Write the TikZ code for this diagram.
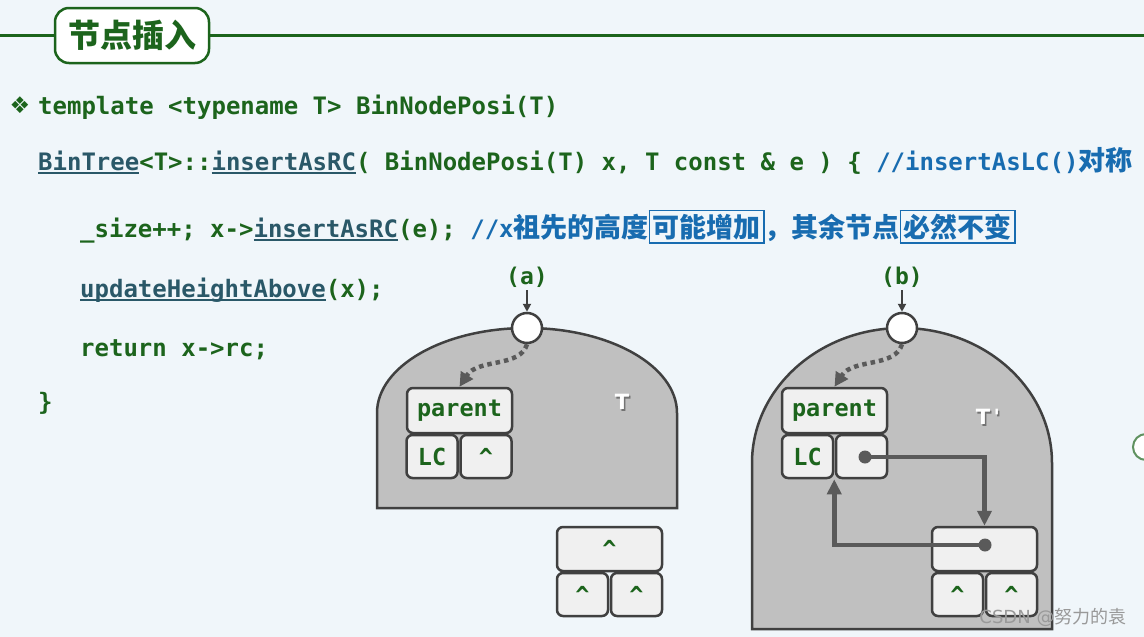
\documentclass[tikz,border=0pt]{standalone}
\usepackage{fontspec}
\setmonofont{DejaVu Sans Mono}
\setsansfont{DejaVu Sans}
\newfontfamily\cjk{Noto Sans CJK SC}
\usetikzlibrary{arrows.meta}

\definecolor{bgblue}{RGB}{240,246,250}
\definecolor{codegreen}{RGB}{28,100,28}
\definecolor{cmtblue}{RGB}{24,108,176}
\definecolor{linkteal}{RGB}{42,88,104}
\definecolor{edgegray}{RGB}{64,64,64}
\definecolor{treegray}{RGB}{192,192,192}
\definecolor{cellgray}{RGB}{240,240,240}
\definecolor{ptrgray}{RGB}{90,90,90}

% underlined names and boxed phrases in the code lines
\newcommand\ulink[1]{{\color{linkteal}\setbox0\hbox{#1}\rlap{\rule[-3.5pt]{\wd0}{1.6pt}}\box0}}
\newcommand\cn{\cjk\bfseries\fontsize{27}{30}\selectfont}
\setlength\fboxsep{2.5pt}
\setlength\fboxrule{1.5pt}
\newcommand\boxcn[1]{\fcolorbox{cmtblue}{bgblue}{#1}}

\tikzset{
  code/.style={anchor=base west, inner sep=0pt, text=codegreen,
    font=\ttfamily\bfseries\fontsize{24}{28}\selectfont},
  cell/.style={draw=edgegray, line width=2.5pt, fill=cellgray, rounded corners=6pt,
    inner sep=0pt, text=codegreen, font=\ttfamily\bfseries\fontsize{23.5}{26}\selectfont},
  wide/.style={cell, minimum width=105pt, minimum height=45pt},
  half/.style={cell, minimum width=51pt, minimum height=43pt},
  tree/.style={draw=edgegray, line width=2.5pt, fill=treegray},
  root/.style={circle, draw=edgegray, line width=2.5pt, fill=white, minimum size=30pt, inner sep=0pt},
  dot/.style={circle, fill=ptrgray, minimum size=13pt, inner sep=0pt},
  ptr/.style={draw=ptrgray, line width=4.5pt, -{Triangle[length=15pt,width=14pt]}},
  parentptr/.style={draw=ptrgray, line width=4.5pt, dash pattern=on 4.5pt off 4pt,
    -{Triangle[length=14pt,width=14pt]}},
  tag/.style={inner sep=1pt, text=codegreen, font=\ttfamily\bfseries\fontsize{23}{25}\selectfont},
  down/.style={draw=edgegray, line width=2.2pt, shorten <=2pt, -{Triangle[length=8pt,width=8pt]}},
  tname/.style={text=white, font=\sffamily\bfseries\fontsize{21}{24}\selectfont},
  tshade/.style={tname, text=black!55},
  titlebox/.style={draw=codegreen, line width=2.5pt, fill=white, rounded corners=14pt,
    minimum width=154pt, minimum height=55pt, text=codegreen,
    font=\cjk\bfseries\fontsize{32}{35}\selectfont},
  wmark/.style={text=black!40, font=\sffamily\fontsize{18}{22}\selectfont}
}

\begin{document}
\begin{tikzpicture}[x=1pt,y=-1pt]
  \useasboundingbox (0,0) rectangle (1144,637);
  \fill[bgblue] (0,0) rectangle (1144,637);

  % Title bar
  \coordinate (lineL) at (0,35);
  \coordinate (lineR) at (1144,35);
  \draw[codegreen, line width=3pt] (lineL) -- (lineR);
  \node[titlebox] (title) at (132,35.5) {节点插入};

  % Code
  \node[text=codegreen, font=\sffamily\fontsize{23}{25}\selectfont] (bullet) at (20,105) {❖};
  \node[code] (l1) at (38,114) {template <typename T> BinNodePosi(T)};
  \node[code] (l2) at (38,170) {\ulink{BinTree}<T>::\ulink{insertAsRC}( BinNodePosi(T) x, T const \& e ) \{ {\color{cmtblue}//insertAsLC(){\cn 对称}}};
  \node[code] (l3) at (80,237) {\_size++; x->\ulink{insertAsRC}(e); {\color{cmtblue}//x{\cn 祖先的高度\boxcn{可能增加}，其余节点\boxcn{必然不变}}}};
  \node[code] (l4) at (80,297) {\ulink{updateHeightAbove}(x);};
  \node[code] (l5) at (80,356) {return x->rc;};
  \node[code] (l6) at (38,410) {\}};

  % (a) subtree T and the new node
  \draw[tree] (377,508) -- (377,413) arc[start angle=180, end angle=360, x radius=150, y radius=85] -- (677,508) -- cycle;
  \node[root] (xa) at (527,328) {};
  \node[tag] (taga) at (527,277) {(a)};
  \draw[down] (taga) -- (xa);
  \node[wide] (pa) at (459.5,410.5) {parent};
  \node[half] (lca) at (432,456.5) {LC};
  \node[half] (rca) at (486,456.5) {\textasciicircum};
  \draw[parentptr] (xa.south) .. controls (520,368) and (478,358) .. (pa.north);
  \node[tshade] (tas) at (623.5,403.5) {T};
  \node[tname] (ta) at (622,402) {T};
  \node[wide, minimum height=44pt] (na) at (609.5,549) {\textasciicircum};
  \node[half] (nla) at (582.5,594.5) {\textasciicircum};
  \node[half] (nra) at (636.5,594.5) {\textasciicircum};

  % (b) subtree T' with x->rc attached
  \draw[tree] (752,629) -- (752,463) arc[start angle=180, end angle=360, x radius=150, y radius=135] -- (1052,629) -- cycle;
  \node[root] (xb) at (902,328) {};
  \node[tag] (tagb) at (902,277) {(b)};
  \draw[down] (tagb) -- (xb);
  \node[wide] (pb) at (834.5,410.5) {parent};
  \node[half] (lcb) at (807.5,456.5) {LC};
  \node[half] (rcb) at (861.5,456.5) {};
  \draw[parentptr] (xb.south) .. controls (895,368) and (853,358) .. (pb.north);
  \node[tshade] (tbs) at (989.5,418.5) {T\,\textquotesingle};
  \node[tname] (tb) at (988,417) {T\,\textquotesingle};
  \node[wide, minimum height=44pt] (nb) at (984.5,549) {};
  \node[half] (nlb) at (957.5,594.5) {\textasciicircum};
  \node[half] (nrb) at (1011.5,594.5) {\textasciicircum};
  \node[dot] (rcdot) at (865,457) {};
  \node[dot] (nbdot) at (985,545) {};
  \draw[ptr] (rcdot.center) -| (nb.north);
  \draw[ptr] (nbdot.center) -| (lcb.south east);

  % edge of the page
  \node[circle, draw=codegreen!70, line width=2pt, fill=white, minimum size=26pt] (knob) at (1146,447) {};
  \node[wmark] (wm) at (1053,617) {CSDN @{\cjk 努力的袁}};
\end{tikzpicture}
\end{document}
